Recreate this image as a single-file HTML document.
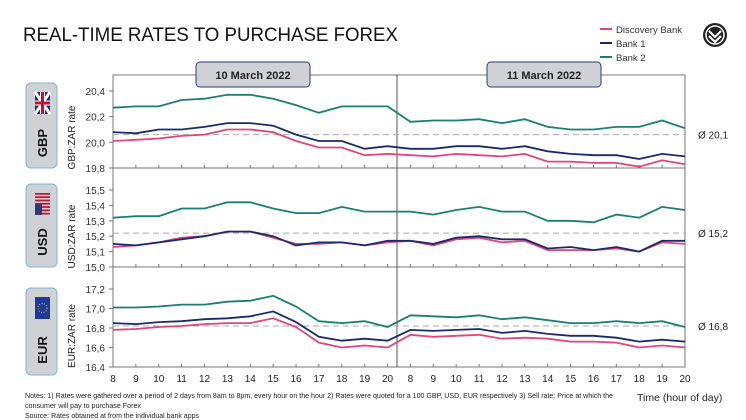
<!DOCTYPE html>
<html><head><meta charset="utf-8"><style>
body{margin:0;background:#fff;font-family:"Liberation Sans",sans-serif}
svg{display:block}
</style></head><body>
<svg id="s" width="746" height="420" viewBox="0 0 746 420" xmlns="http://www.w3.org/2000/svg" font-family="Liberation Sans, sans-serif">
<text x="23" y="41" font-size="19" fill="#111" textLength="375" lengthAdjust="spacingAndGlyphs">REAL-TIME RATES TO PURCHASE FOREX</text>
<g font-size="9.5" fill="#333">
<line x1="600" y1="29" x2="612" y2="29" stroke="#e0457b" stroke-width="2"/><text x="616" y="33">Discovery Bank</text>
<line x1="600" y1="43" x2="612" y2="43" stroke="#1a2a6c" stroke-width="2"/><text x="616" y="47">Bank 1</text>
<line x1="600" y1="57" x2="612" y2="57" stroke="#1a7f73" stroke-width="2"/><text x="616" y="61">Bank 2</text>
</g>
<circle cx="715" cy="35" r="12" fill="#222"/><circle cx="715" cy="35" r="9" fill="none" stroke="#fff" stroke-width="1.5"/>
<path d="M709 31 L715 37 L721 31 M709 36 L715 42 L721 36" fill="none" stroke="#fff" stroke-width="2"/>
<rect x="113" y="75" width="572" height="292" fill="none" stroke="#777" stroke-width="1"/>
<line x1="113" y1="168" x2="685" y2="168" stroke="#777"/>
<line x1="113" y1="267" x2="685" y2="267" stroke="#777"/>
<line x1="397" y1="75" x2="397" y2="367" stroke="#555"/>
<rect x="196" y="62" width="114" height="25" rx="4" fill="#cfd1d4" stroke="#2a3a7a" stroke-width="1"/>
<text x="253" y="79" font-size="11" font-weight="bold" text-anchor="middle" fill="#222">10 March 2022</text>
<rect x="487" y="62" width="114" height="25" rx="4" fill="#cfd1d4" stroke="#2a3a7a" stroke-width="1"/>
<text x="544" y="79" font-size="11" font-weight="bold" text-anchor="middle" fill="#222">11 March 2022</text>
<g id="g"></g>
<g font-size="7.5" fill="#222">
<text x="25" y="398" textLength="588" lengthAdjust="spacingAndGlyphs">Notes: 1) Rates were gathered over a period of 2 days from 8am to 8pm, every hour on the hour 2) Rates were quoted for a 100 GBP, USD, EUR respectively 3) Sell rate: Price at which the</text>
<text x="25" y="408" textLength="116" lengthAdjust="spacingAndGlyphs">consumer will pay to purchase Forex</text>
<text x="25" y="418" textLength="174" lengthAdjust="spacingAndGlyphs">Source: Rates obtained at from the individual bank apps</text>
</g>
<text x="637" y="401" font-size="10.5" fill="#222">Time (hour of day)</text>
</svg>
<script>
const g=document.getElementById('g');let h='';
const X=i=>113+i*22.88;
const panels=[
{name:'GBP',lab:'GBP:ZAR rate',top:75,bot:168,min:19.8,max:20.4,ticks:[19.8,20.0,20.2,20.4],avg:20.06,avgt:'Ø 20,1',box:[83,168],
d:[[20.01,20.02,20.03,20.05,20.06,20.10,20.10,20.08,20.01,19.96,19.96,19.90,19.91,19.90,19.89,19.91,19.90,19.89,19.91,19.85,19.85,19.84,19.84,19.81,19.86,19.83],
[20.08,20.07,20.10,20.10,20.12,20.15,20.15,20.13,20.06,20.01,20.01,19.95,19.97,19.95,19.95,19.97,19.97,19.95,19.97,19.93,19.91,19.90,19.90,19.87,19.91,19.89],
[20.27,20.28,20.28,20.33,20.34,20.37,20.37,20.34,20.29,20.23,20.28,20.28,20.28,20.16,20.17,20.17,20.18,20.15,20.18,20.12,20.10,20.10,20.12,20.12,20.17,20.11]]},
{name:'USD',lab:'USD:ZAR rate',top:168,bot:267,min:15.0,max:15.5,ticks:[15.0,15.1,15.2,15.3,15.4,15.5],avg:15.22,avgt:'Ø 15,2',box:[184,267],
d:[[15.13,15.14,15.16,15.19,15.20,15.23,15.23,15.19,15.15,15.15,15.16,15.14,15.16,15.17,15.14,15.18,15.19,15.16,15.17,15.11,15.11,15.11,15.12,15.10,15.16,15.15],
[15.15,15.14,15.16,15.18,15.20,15.23,15.23,15.20,15.14,15.16,15.16,15.14,15.17,15.17,15.15,15.19,15.20,15.18,15.18,15.12,15.13,15.11,15.13,15.10,15.17,15.17],
[15.32,15.33,15.33,15.38,15.38,15.42,15.42,15.38,15.35,15.35,15.39,15.36,15.36,15.36,15.34,15.37,15.39,15.36,15.36,15.30,15.30,15.29,15.34,15.32,15.39,15.37]]},
{name:'EUR',lab:'EUR:ZAR rate',top:267,bot:367,min:16.4,max:17.2,ticks:[16.4,16.6,16.8,17.0,17.2],avg:16.82,avgt:'Ø 16,8',box:[288,375],
d:[[16.78,16.79,16.81,16.82,16.84,16.85,16.85,16.90,16.81,16.65,16.60,16.62,16.60,16.73,16.71,16.72,16.73,16.69,16.70,16.69,16.66,16.66,16.65,16.60,16.62,16.60],
[16.85,16.84,16.86,16.87,16.89,16.90,16.92,16.97,16.86,16.71,16.67,16.69,16.67,16.78,16.77,16.78,16.79,16.75,16.77,16.74,16.72,16.72,16.70,16.66,16.68,16.66],
[17.01,17.01,17.02,17.04,17.04,17.07,17.08,17.13,17.02,16.87,16.85,16.87,16.81,16.93,16.92,16.91,16.93,16.89,16.91,16.88,16.85,16.85,16.87,16.85,16.87,16.81]]}];
const cols=['#e0457b','#1a2a6c','#1a7f73'];
const tops=[91,190,289];
panels.forEach((p,k)=>{
 const t=tops[k],b=p.bot;
 const Y=v=>b-(v-p.min)/(p.max-p.min)*(b-t);
 p.ticks.forEach(v=>{h+=`<text x="105" y="${Y(v)+4}" font-size="10" text-anchor="end" fill="#333">${v.toFixed(1).replace('.',',')}</text><line x1="109" y1="${Y(v)}" x2="113" y2="${Y(v)}" stroke="#777"/>`;});
 for(let i=0;i<26;i++)h+=`<line x1="${X(i)}" y1="${b}" x2="${X(i)}" y2="${b-3}" stroke="#777"/>`;
 h+=`<line x1="113" y1="${Y(p.avg)}" x2="685" y2="${Y(p.avg)}" stroke="#aaa" stroke-dasharray="6,4"/>`;
 h+=`<text x="698" y="${Y(p.avg)+4}" font-size="10" fill="#222">${p.avgt}</text>`;
 p.d.forEach((arr,j)=>{h+=`<polyline fill="none" stroke="${cols[j]}" stroke-width="1.8" points="${arr.map((v,i)=>X(i).toFixed(1)+','+Y(v).toFixed(1)).join(' ')}"/>`;});
 const cy=(t+b)/2+8;
 h+=`<text transform="translate(75 ${cy}) rotate(-90)" font-size="10" text-anchor="middle" fill="#222">${p.lab}</text>`;
 const [y1,y2]=p.box;
 h+=`<rect x="26" y="${y1}" width="31" height="${y2-y1}" rx="5" fill="#cfd1d4" stroke="#7fb8d8" stroke-width="1"/>`;
 h+=`<text transform="translate(47 ${y2-25}) rotate(-90)" font-size="13" font-weight="bold" text-anchor="middle" fill="#111">${p.name}</text>`;
 const fy=y1+9;
 if(k==0){h+=`<rect x="35" y="${fy}" width="15" height="22" fill="#1d2f7a"/><path d="M35 ${fy}L50 ${fy+22}M50 ${fy}L35 ${fy+22}" stroke="#fff" stroke-width="3"/><path d="M42.5 ${fy}V${fy+22}M35 ${fy+11}H50" stroke="#fff" stroke-width="5"/><path d="M42.5 ${fy}V${fy+22}M35 ${fy+11}H50" stroke="#c8102e" stroke-width="3"/>`;}
 if(k==1){for(let s=0;s<7;s++)h+=`<rect x="35" y="${fy+s*3.3}" width="15" height="1.7" fill="#c8102e"/>`;h+=`<rect x="35" y="${fy+11}" width="7" height="11" fill="#2a3a7a"/>`;}
 if(k==2){h+=`<rect x="35" y="${fy}" width="15" height="22" fill="#1d3a9a"/><circle cx="42.5" cy="${fy+11}" r="4.5" fill="none" stroke="#e8c820" stroke-dasharray="1,1.5"/>`;}
});
const hrs=[8,9,10,11,12,13,14,15,16,17,18,19,20,8,9,10,11,12,13,14,15,16,17,18,19,20];
hrs.forEach((v,i)=>h+=`<text x="${X(i)}" y="382" font-size="10" text-anchor="middle" fill="#222">${v}</text>`);
g.innerHTML=h;
</script>
</body></html>
